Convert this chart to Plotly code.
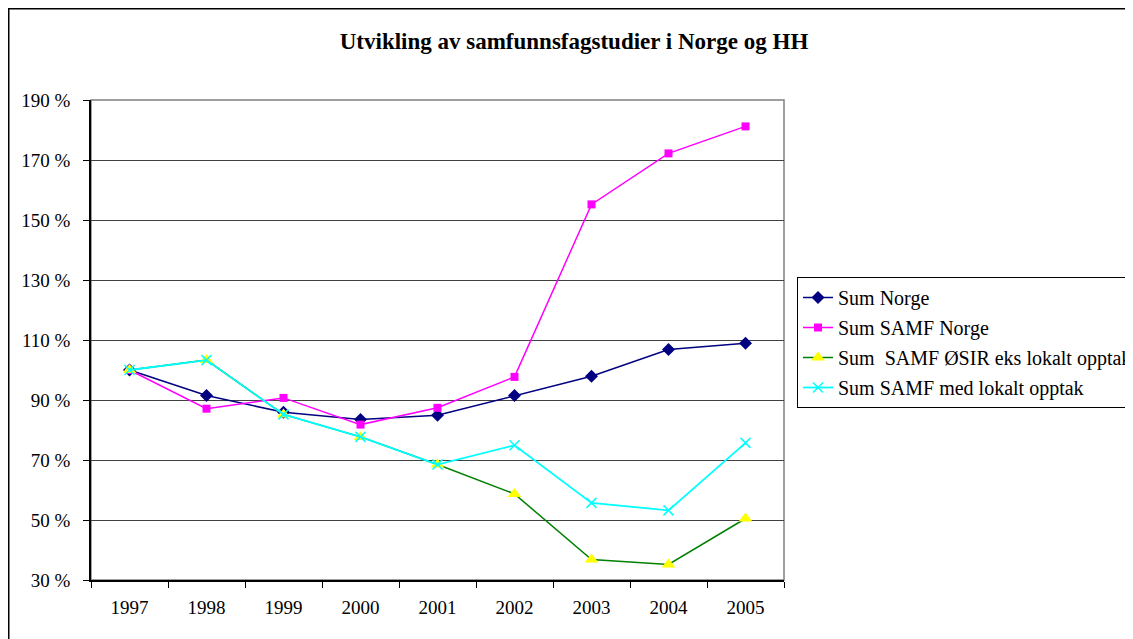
import plotly.graph_objects as go

aar = ["1997", "1998", "1999", "2000", "2001", "2002", "2003", "2004", "2005"]

sum_norge = [100, 91.5, 85.9, 83.5, 84.9, 91.5, 97.9, 106.8, 108.9]
sum_samf_norge = [100, 87.1, 90.7, 81.8, 87.4, 97.7, 155.2, 172.2, 181.2]
sum_samf_osir = [100, 103.3, 85.2, 77.7, 68.5, 58.7, 36.8, 35.2, 50.5]
sum_samf_lokalt = [100, 103.3, 85.2, 77.7, 68.5, 74.9, 55.7, 53.2, 75.7]

navn = ["Sum Norge", "Sum SAMF Norge",
        "Sum\u00a0 SAMF ØSIR eks lokalt opptak", "Sum SAMF med lokalt opptak"]

FONT = "Liberation Serif, Times New Roman, serif"

fig = go.Figure()

# én serie om gangen, samme rekkefølge som i Excel-figuren
fig.add_trace(go.Scatter(
    x=aar, y=sum_norge, name=navn[0], mode="lines+markers", legendgroup="a",
    line=dict(color="#000080", width=1.5),
    marker=dict(symbol="diamond", size=10, color="#000080")
))
fig.add_trace(go.Scatter(
    x=aar, y=sum_samf_norge, name=navn[1], mode="lines+markers", legendgroup="b",
    line=dict(color="#FF00FF", width=1.5),
    marker=dict(symbol="square", size=8, color="#FF00FF")
))
fig.add_trace(go.Scatter(
    x=aar, y=sum_samf_osir, name=navn[2], mode="lines+markers", legendgroup="c",
    line=dict(color="#008000", width=1.5),
    marker=dict(symbol="triangle-up", size=12, color="#FFFF00")
))
fig.add_trace(go.Scatter(
    x=aar, y=sum_samf_lokalt, name=navn[3], mode="lines+markers", legendgroup="d",
    line=dict(color="#00FFFF", width=1.8),
    marker=dict(symbol="x-thin-open", size=10, color="#00FFFF", line=dict(width=1.5, color="#00FFFF"))
))

# siden har 8 px marg, så figuren gjøres 8 px mindre
W, H = 1125, 631
L, T = 83, 92
pw, ph = 693, 480

# ramme rundt hele diagrammet og grå kant rundt plottområdet
fig.add_shape(type="rect", xref="paper", yref="paper",
              x0=(0.75 - L) / pw, x1=(W + 20 - L) / pw,
              y0=(T + ph - H - 20) / ph, y1=(T + ph - 0.75) / ph,
              line=dict(color="black", width=1.5), layer="below")
fig.add_shape(type="rect", xref="paper", yref="paper", x0=0, x1=1, y0=0, y1=1,
              line=dict(color="#808080", width=1.5), layer="below")

fig.update_layout(
    width=W, height=H,
    margin=dict(l=L, r=W - L - pw, t=T, b=H - T - ph, autoexpand=False),
    paper_bgcolor="white", plot_bgcolor="white",
    font=dict(family=FONT, size=20, color="black"),
    title=dict(text="<b>Utvikling av samfunnsfagstudier i Norge og HH</b>",
               x=566 / W, xref="container", xanchor="center",
               y=1 - 33 / H, yref="container", yanchor="middle",
               font=dict(family=FONT, size=23, color="black")),
    legend=dict(x=789 / W, xref="container", xanchor="left",
                y=1 - 269 / H, yref="container", yanchor="top",
                bordercolor="black", borderwidth=1, bgcolor="white",
                font=dict(family=FONT, size=20, color="black"),
                tracegroupgap=1, itemwidth=30),
    showlegend=True,
)

fig.update_xaxes(type="category", range=[-0.5, 8.5], tickson="boundaries",
                 ticks="outside", ticklen=6, tickcolor="black",
                 showline=True, linecolor="black", linewidth=1.5,
                 showgrid=False, tickfont=dict(family=FONT, size=19), ticklabelstandoff=9)
fig.update_yaxes(range=[30, 190], dtick=20, tick0=30, ticksuffix=" %",
                 ticks="outside", ticklen=6, tickcolor="black",
                 showline=True, linecolor="black", linewidth=1.5,
                 showgrid=True, gridcolor="#404040", gridwidth=1,
                 zeroline=False, tickfont=dict(family=FONT, size=19), ticklabelstandoff=9)

fig.write_html("out.html")
